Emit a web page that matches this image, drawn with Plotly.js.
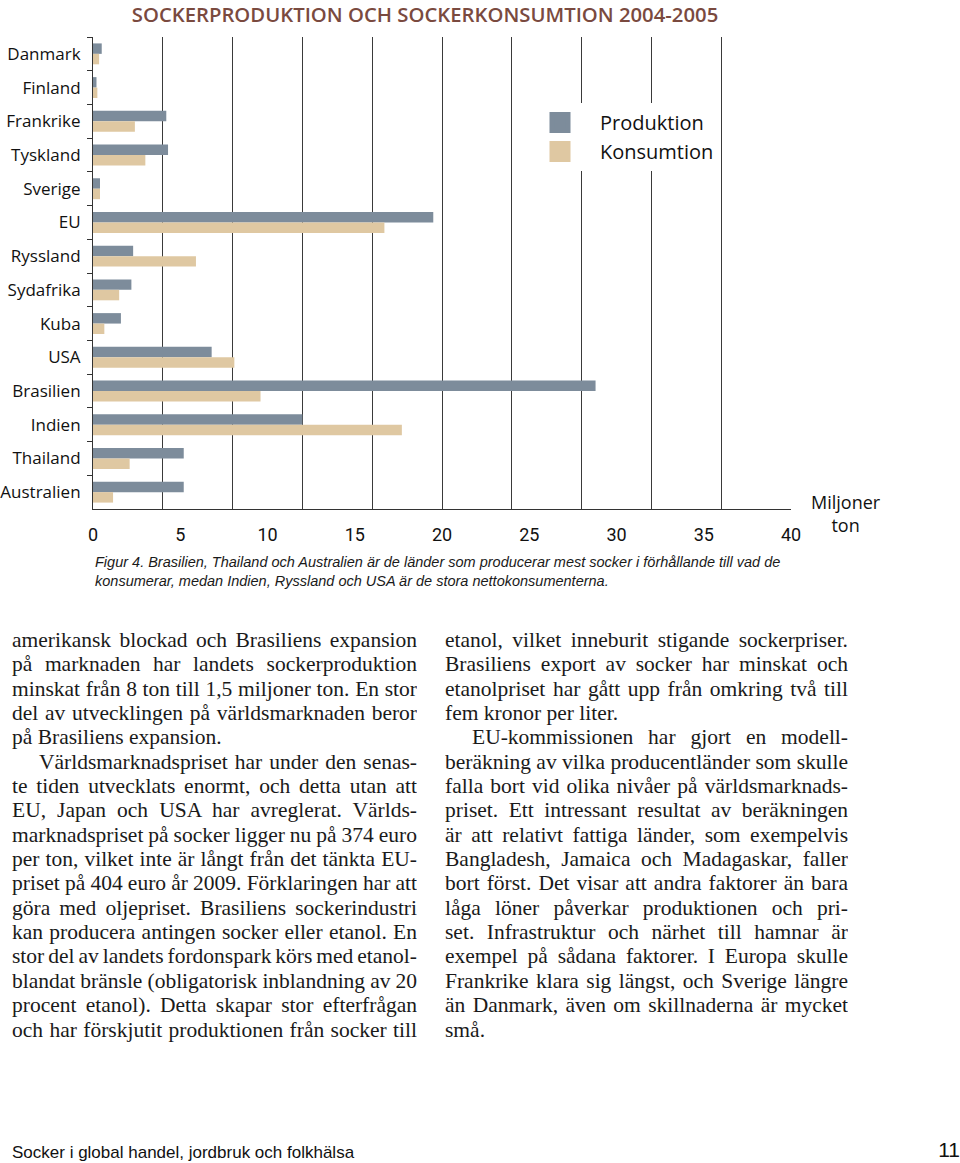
<!DOCTYPE html>
<html>
<head>
<meta charset="utf-8">
<script src="https://cdn.plot.ly/plotly-3.0.1.min.js"></script>
<style>
  html, body { margin: 0; padding: 0; background: #fff; }
  body { width: 960px; height: 1163px; position: relative; overflow: hidden; }
  #chart { position: absolute; left: 0; top: 0; width: 960px; height: 600px; }
  .col { position: absolute; top: 628px; font-family: "Liberation Serif", "DejaVu Serif", serif; font-size: 21.5px; color: #1a1a1a; }
  .col div { height: 24.35px; line-height: 24.35px; white-space: nowrap; text-align: justify; text-align-last: justify; overflow: hidden; }
  .col div.last { text-align: left; text-align-last: left; }
  .col div.ind { padding-left: 27px; }
  #footer { position: absolute; left: 12px; top: 1143px; font-family: "Liberation Sans Narrow", "Liberation Sans", sans-serif; font-size: 17px; color: #111; }
  #pageno { position: absolute; right: 0px; top: 1138px; font-family: "Liberation Sans Narrow", "Liberation Sans", sans-serif; font-size: 21px; color: #111; }
</style>
</head>
<body>
<div id="chart"></div>
<div class="col" id="col1" style="left:12px; width:405px;"></div>
<div class="col" id="col2" style="left:445px; width:403px;"></div>
<div id="footer">Socker i global handel, jordbruk och folkhälsa</div>
<div id="pageno">11</div>
<script>
// ---- chart data ----
const countries = ['Danmark','Finland','Frankrike','Tyskland','Sverige','EU','Ryssland','Sydafrika','Kuba','USA','Brasilien','Indien','Thailand','Australien'];
const produktion = [0.5, 0.2, 4.2, 4.3, 0.4, 19.5, 2.3, 2.2, 1.6, 6.8, 28.8, 12.0, 5.2, 5.2];
const konsumtion = [0.35, 0.25, 2.4, 3.0, 0.4, 16.7, 5.9, 1.5, 0.65, 8.1, 9.6, 17.7, 2.1, 1.15];
const xTickVals = [0, 5, 10, 15, 20, 25, 30, 35, 40];
const seriesNames = ['Produktion', 'Konsumtion'];
const seriesColors = ['#7d8c9b', '#dfc8a2'];
const chartTitle = 'SOCKERPRODUKTION OCH SOCKERKONSUMTION 2004-2005';
const unitLabel = 'Miljoner<br>ton';
const caption = 'Figur 4. Brasilien, Thailand och Australien är de länder som producerar mest socker i förhållande till vad de<br>konsumerar, medan Indien, Ryssland och USA är de stora nettokonsumenterna.';

// ---- body text lines ('' = justified, 'last' = paragraph end, 'ind' = indented first line) ----
const col1Lines = [
  ['amerikansk blockad och Brasiliens expansion', ''],
  ['på marknaden har landets sockerproduktion', ''],
  ['minskat från 8 ton till 1,5 miljoner ton. En stor', ''],
  ['del av utvecklingen på världsmarknaden beror', ''],
  ['på Brasiliens expansion.', 'last'],
  ['Världsmarknadspriset har under den senas-', 'ind'],
  ['te tiden utvecklats enormt, och detta utan att', ''],
  ['EU, Japan och USA har avreglerat. Världs-', ''],
  ['marknadspriset på socker ligger nu på 374 euro', ''],
  ['per ton, vilket inte är långt från det tänkta EU-', ''],
  ['priset på 404 euro år 2009. Förklaringen har att', ''],
  ['göra med oljepriset. Brasiliens sockerindustri', ''],
  ['kan producera antingen socker eller etanol. En', ''],
  ['stor del av landets fordonspark körs med etanol-', ''],
  ['blandat bränsle (obligatorisk inblandning av 20', ''],
  ['procent etanol). Detta skapar stor efterfrågan', ''],
  ['och har förskjutit produktionen från socker till', '']
];
const col2Lines = [
  ['etanol, vilket inneburit stigande sockerpriser.', ''],
  ['Brasiliens export av socker har minskat och', ''],
  ['etanolpriset har gått upp från omkring två till', ''],
  ['fem kronor per liter.', 'last'],
  ['EU-kommissionen har gjort en modell-', 'ind'],
  ['beräkning av vilka producentländer som skulle', ''],
  ['falla bort vid olika nivåer på världsmarknads-', ''],
  ['priset. Ett intressant resultat av beräkningen', ''],
  ['är att relativt fattiga länder, som exempelvis', ''],
  ['Bangladesh, Jamaica och Madagaskar, faller', ''],
  ['bort först. Det visar att andra faktorer än bara', ''],
  ['låga löner påverkar produktionen och pri-', ''],
  ['set. Infrastruktur och närhet till hamnar är', ''],
  ['exempel på sådana faktorer. I Europa skulle', ''],
  ['Frankrike klara sig längst, och Sverige längre', ''],
  ['än Danmark, även om skillnaderna är mycket', ''],
  ['små.', 'last']
];
function fillCol(id, lines) {
  const el = document.getElementById(id);
  lines.forEach(([t, c]) => {
    const d = document.createElement('div');
    if (c) d.className = c;
    d.textContent = t;
    el.appendChild(d);
    // tighten spacing only if the line is wider than its column
    let ws = 0, ls = 0, guard = 0;
    while (d.scrollWidth > d.clientWidth && guard < 60) {
      if (ws > -3) { ws -= 0.5; d.style.wordSpacing = ws + 'px'; }
      else { ls -= 0.1; d.style.letterSpacing = ls.toFixed(2) + 'px'; }
      guard++;
    }
  });
}
fillCol('col1', col1Lines);
fillCol('col2', col2Lines);

// ---- chart ----
const sansFont = '"Open Sans", "Liberation Sans", sans-serif';
const traces = [
  { type: 'bar', orientation: 'h', name: seriesNames[0], y: countries, x: produktion, legendgroup: 'p', showlegend: false,
    marker: { color: seriesColors[0] }, hoverinfo: 'skip' },
  { type: 'bar', orientation: 'h', name: seriesNames[1], y: countries, x: konsumtion, legendgroup: 'k', showlegend: false,
    marker: { color: seriesColors[1] }, hoverinfo: 'skip' },
  // legend entries with larger square swatches (draw nothing in the plot)
  { type: 'scatter', mode: 'markers', name: seriesNames[0], legendgroup: 'p', x: [null], y: [null], hoverinfo: 'skip',
    marker: { symbol: 'square', size: 16, color: seriesColors[0], line: { color: seriesColors[0], width: 5 } } },
  { type: 'scatter', mode: 'markers', name: seriesNames[1], legendgroup: 'k', x: [null], y: [null], hoverinfo: 'skip',
    marker: { symbol: 'square', size: 16, color: seriesColors[1], line: { color: seriesColors[1], width: 5 } } },
  // carrier for the grid axis (draws nothing)
  { type: 'scatter', mode: 'none', y: countries, x: produktion, xaxis: 'x2', showlegend: false, hoverinfo: 'skip' }
];
const layout = {
  width: 960, height: 600,
  margin: { l: 93, r: 169, t: 37, b: 91, pad: 0 },
  paper_bgcolor: '#fff', plot_bgcolor: '#fff',
  barmode: 'group', bargap: 0.38, bargroupgap: 0,
  title: { text: chartTitle, x: 425 / 960, xref: 'container', xanchor: 'center', y: 1 - 14.5 / 600, yref: 'container', yanchor: 'middle',
    font: { family: sansFont, size: 20.3, weight: 600, color: '#7a4a3f' } },
  xaxis: { range: [0, 40], tickvals: xTickVals, showgrid: false, zeroline: false, showline: true, linecolor: '#333', linewidth: 1,
    ticks: '', ticklabelstandoff: 9, tickfont: { family: '"Liberation Sans Narrow", "Roboto", sans-serif', size: 18, color: '#111' }, fixedrange: true },
  xaxis2: { overlaying: 'x', anchor: 'y', side: 'bottom', range: [0, 40], tick0: 0, dtick: 4, showgrid: true, gridcolor: '#3a3a3a', gridwidth: 1,
    showticklabels: false, ticks: '', zeroline: false, showline: false, fixedrange: true },
  yaxis: { type: 'category', categoryorder: 'array', categoryarray: countries, range: [countries.length - 0.5, -0.5], autorange: false,
    tickson: 'boundaries', ticks: 'outside', ticklen: 5, tickcolor: '#333',
    showline: true, linecolor: '#333', linewidth: 1, showgrid: false, ticklabelstandoff: 8,
    tickfont: { family: sansFont, size: 17, color: '#111' }, fixedrange: true },
  legend: { x: (520 - 93) / 698, xanchor: 'left', y: 1 - (103 - 37) / 472, yanchor: 'top', bgcolor: '#fff', borderwidth: 0,
    font: { family: sansFont, size: 20, color: '#111' }, itemwidth: 70, tracegroupgap: 9, traceorder: 'normal' },
  annotations: [
    { text: caption, xref: 'paper', yref: 'paper', x: 0, xanchor: 'left', y: -(571 - 509) / 472, yanchor: 'middle', align: 'left', showarrow: false,
      font: { family: '"Liberation Sans Narrow", "Liberation Sans", sans-serif', size: 14.5, style: 'italic', color: '#1a1a1a' } },
    { text: unitLabel, xref: 'paper', yref: 'paper', x: (846 - 93) / 698, xanchor: 'center', y: -(513 - 509) / 472, yanchor: 'middle', align: 'center', showarrow: false,
      font: { family: sansFont, size: 18, color: '#111' } }
  ]
};
Plotly.newPlot('chart', traces, layout, { displayModeBar: false, staticPlot: true });
</script>
</body>
</html>
